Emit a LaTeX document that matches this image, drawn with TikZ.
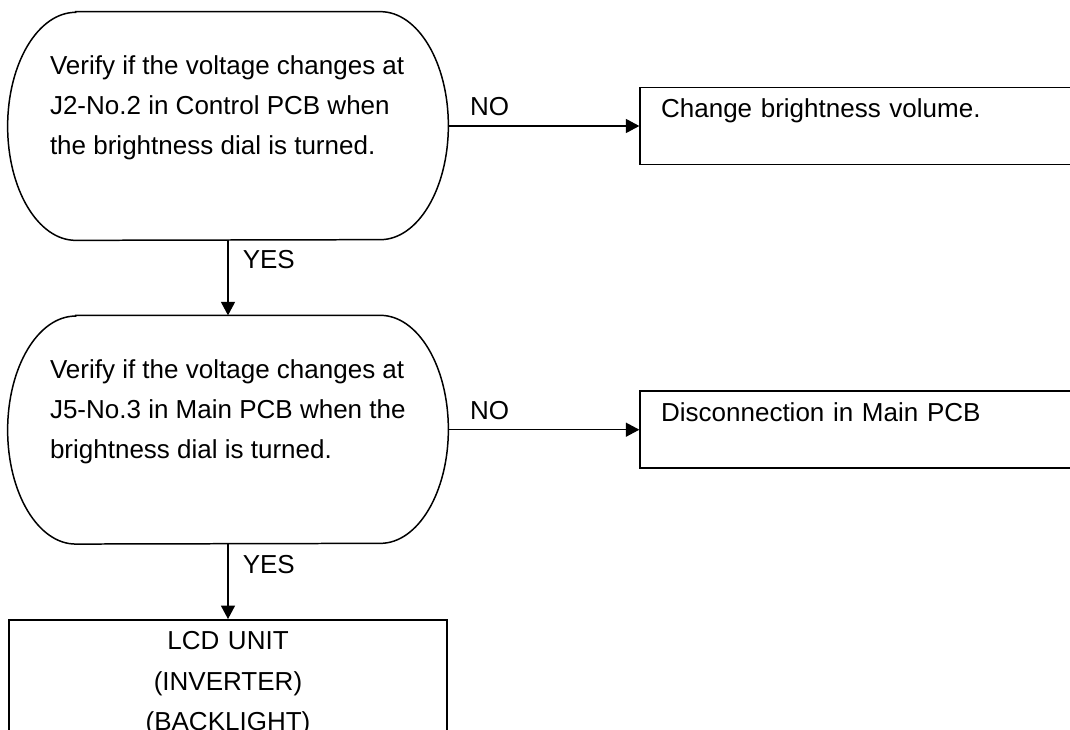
\documentclass[tikz,border=0pt]{standalone}
\usepackage{fontspec}
\setmainfont{Liberation Sans}
\usepackage{tikz}
\usetikzlibrary{arrows.meta, positioning}

% outline with elliptical sides round an empty decision node
\newcommand{\ovaloutline}[1]{%
  \draw[line width=0.85pt] ([xshift=1.36cm]#1.north west) -- ([xshift=-1.36cm]#1.north east)
    arc[start angle=90, end angle=-90, x radius=1.36cm, y radius=2.28cm]
    -- ([xshift=1.36cm]#1.south west)
    arc[start angle=270, end angle=90, x radius=1.36cm, y radius=2.28cm] -- cycle;}

\begin{document}
\begin{tikzpicture}[
        node distance=1.5cm,
        txt/.style={font=\fontsize{14.8pt}{22.8pt}\selectfont},
        decision/.style={rectangle, minimum width=8.8cm, minimum height=4.56cm, inner sep=0pt},
        question/.style={txt, align=left, inner sep=0pt, anchor=west},
        result/.style={txt, rectangle, draw, line width=0.85pt, text width=8cm, align=left, inner xsep=0.42cm, inner ysep=0.2cm, text height=0.4cm, text depth=0.74cm},
        unit/.style={txt, rectangle, draw, line width=0.85pt, text width=8.36cm, align=center, inner xsep=0.2cm, inner ysep=0.24cm},
        answer/.style={txt, inner sep=0pt},
        conn/.style={-{Triangle[length=0.27cm, width=0.28cm]}, line width=0.85pt},
    ]
        \useasboundingbox (0,0) rectangle (21.4,-14.58);
        \clip (0,0) rectangle (21.4,-14.58);

        % Decisions
        \node[decision] (q1) at (4.56,-2.52) {};
        \node[question] (q1text) at ([xshift=0.84cm, yshift=0.36cm]q1.west) {Verify if the voltage changes at\\J2-No.2 in Control PCB when\\the brightness dial is turned.};
        \ovaloutline{q1}

        \node[decision, below=of q1] (q2) {};
        \node[question] (q2text) at ([xshift=0.84cm, yshift=0.36cm]q2.west) {Verify if the voltage changes at\\J5-No.3 in Main PCB when the\\brightness dial is turned.};
        \ovaloutline{q2}

        % Results
        \node[result, right=3.82cm of q1] (r1) {Change brightness volume.};
        \node[result, right=3.82cm of q2] (r2) {Disconnection in Main PCB};
        \node[unit, below=of q2] (lcd) {LCD UNIT\\(INVERTER)\\(BACKLIGHT)};

        % Connections
        \draw[conn] (q1) -- node[answer, pos=0.11, anchor=south west, yshift=0.18cm] {NO} (r1);
        \draw[conn] (q1) -- node[answer, pos=0.25, anchor=west, xshift=0.28cm] {YES} (q2);
        \draw[conn] (q2) -- node[answer, pos=0.11, anchor=south west, yshift=0.18cm] {NO} (r2);
        \draw[conn] (q2) -- node[answer, pos=0.27, anchor=west, xshift=0.28cm] {YES} (lcd);
    \end{tikzpicture}
\end{document}
